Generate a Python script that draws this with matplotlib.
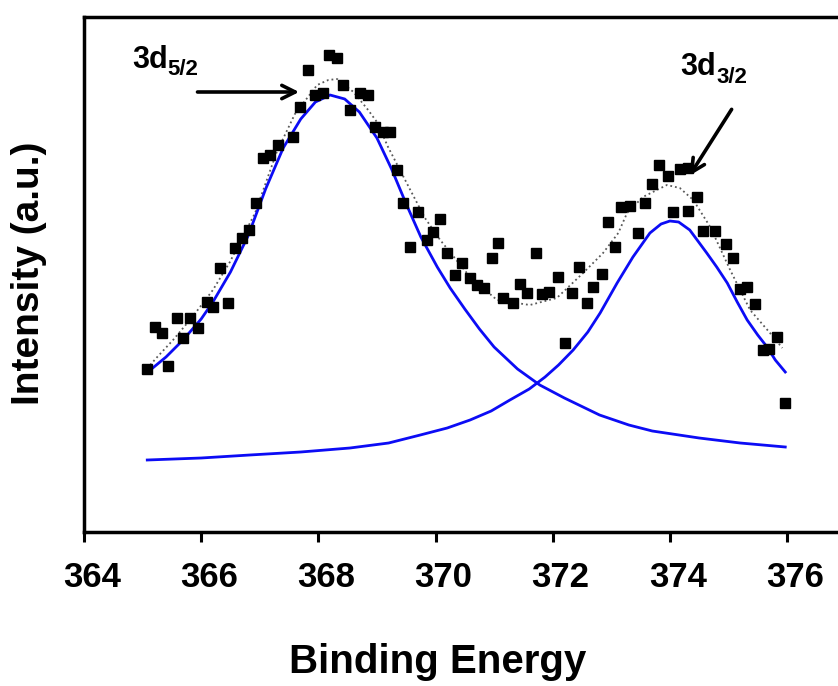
import matplotlib
matplotlib.use("Agg")
import matplotlib.pyplot as plt
from matplotlib.transforms import ScaledTranslation

plt.rcParams["font.family"] = ["Liberation Sans", "DejaVu Sans"]
plt.rcParams["font.weight"] = "bold"

# measured XPS points (binding energy in eV, intensity in a.u.)
energy = [
    365.08, 365.21, 365.33, 365.43, 365.59, 365.69, 365.81, 365.95, 366.10, 366.20,
    366.32, 366.46, 366.58, 366.70, 366.82, 366.94, 367.06, 367.18, 367.31, 367.57,
    367.69, 367.82, 367.94, 368.08, 368.18, 368.32, 368.42, 368.54, 368.71, 368.85,
    368.97, 369.10, 369.22, 369.34, 369.45, 369.57, 369.70, 369.86, 369.96, 370.08,
    370.20, 370.33, 370.45, 370.59, 370.71, 370.83, 370.96, 371.07, 371.15, 371.32,
    371.44, 371.56, 371.72, 371.82, 371.94, 372.09, 372.21, 372.33, 372.45, 372.59,
    372.69, 372.84, 372.95, 373.06, 373.17, 373.32, 373.46, 373.58, 373.70, 373.82,
    373.97, 374.05, 374.17, 374.31, 374.31, 374.46, 374.57, 374.77, 374.96, 375.08,
    375.20, 375.32, 375.45, 375.59, 375.69, 375.83, 375.97,
]
intensity = [
    163, 205, 199, 166, 214, 194, 214, 204, 230, 225,
    264, 229, 284, 294, 302, 329, 374, 377, 387, 395,
    425, 462, 437, 439, 477, 474, 447, 422, 439, 437,
    405, 400, 400, 362, 329, 285, 320, 292, 300, 313,
    279, 257, 269, 254, 247, 244, 274, 289, 234, 229,
    248, 239, 279, 238, 240, 255, 189, 239, 265, 229,
    245, 258, 310, 285, 325, 326, 299, 329, 348, 367,
    356, 320, 363, 364, 321, 335, 301, 301, 288, 274,
    243, 245, 228, 182, 183, 195, 129,
]

# fitted 3d5/2 component
fit1_e = [365.09, 365.40, 365.69, 366.00, 366.20, 366.50, 366.80, 367.10, 367.40, 367.70,
          367.95, 368.20, 368.45, 368.70, 369.00, 369.25, 369.50, 369.75, 370.03, 370.25,
          370.50, 370.75, 371.00, 371.40, 371.78, 372.20, 372.80, 373.30, 373.70, 374.50,
          375.20, 375.97]
fit1_i = [160, 175, 192, 213, 230, 260, 296, 343, 384, 413,
          430, 437, 433, 420, 394, 363, 328, 295, 265, 244,
          223, 203, 185, 163, 147, 134, 117, 107, 101, 94,
          89, 85]

# fitted 3d3/2 component
fit2_e = [365.08, 366.00, 366.83, 367.70, 368.54, 369.20, 369.74, 370.20, 370.59, 370.95,
          371.27, 371.60, 371.87, 372.10, 372.35, 372.60, 372.81, 373.10, 373.37, 373.66,
          373.85, 374.00, 374.15, 374.34, 374.63, 374.80, 374.98, 375.15, 375.32, 375.50,
          375.66, 375.80, 375.97]
fit2_i = [72, 74, 77, 80, 84, 89, 97, 104, 112, 121,
          132, 143, 155, 167, 182, 200, 219, 249, 275, 299,
          308, 311, 310, 302, 279, 265, 249, 230, 212, 197,
          185, 172, 160]

# envelope (sum of fit)
env_e = [365.13, 365.25, 365.52, 365.85, 366.20, 366.49, 366.92, 367.29, 367.60, 367.98,
         368.17, 368.32, 368.60, 368.85, 369.00, 369.19, 369.57, 369.82, 370.08, 370.59,
         371.05, 371.61, 372.07, 372.52, 372.86, 373.12, 373.27, 373.54, 373.95, 374.17,
         374.40, 374.69, 375.03, 375.37, 375.71, 375.92]
env_i = [167, 175, 192, 215, 242, 270, 319, 380, 418, 447,
         452, 453, 440, 422, 410, 385, 342, 314, 292, 255,
         232, 227, 234, 259, 279, 299, 319, 335, 347, 344,
         332, 305, 262, 222, 199, 184]

xticks = [364, 366, 368, 370, 372, 374, 376]

W, H = 838, 686
fig = plt.figure(figsize=(W / 100, H / 100), dpi=100)
ax = fig.add_axes([84 / W, (H - 532) / H, 761.6 / W, 515 / H])

ax.plot(env_e, env_i, ls=":", color="0.35", lw=1.3, zorder=2)
ax.plot(fit1_e, fit1_i, color="#0c0cf5", lw=2.0, zorder=3)
ax.plot(fit2_e, fit2_i, color="#0c0cf5", lw=2.0, zorder=3)
ax.plot(energy, intensity, ls="none", marker="s", ms=7.5, color="black", zorder=4)

ax.set_xlim(364, 377)
ax.set_ylim(0, 515)
ax.set_xticks(xticks)
ax.set_xticklabels([str(t) for t in xticks], fontsize=25, fontweight="bold")
ax.set_yticks([])
ax.tick_params(axis="x", direction="out", length=7, width=2.2, pad=14)
for lab in ax.get_xticklabels():
    lab.set_transform(lab.get_transform() + ScaledTranslation(0.08, 0, fig.dpi_scale_trans))
for side in ["left", "top", "bottom"]:
    ax.spines[side].set_linewidth(2.5)
ax.spines["right"].set_visible(False)

fig.text(438 / W, 1 - 662 / H, "Binding Energy", ha="center", va="center",
         fontsize=29, fontweight="bold")
fig.text(29 / W, 1 - 273 / H, "Intensity (a.u.)", ha="center", va="center",
         rotation=90, fontsize=28, fontweight="bold")

ax.annotate("", xy=(367.72, 440), xytext=(365.89, 440),
            arrowprops=dict(arrowstyle="->", lw=2.6, color="black", mutation_scale=24))
ax.annotate("", xy=(374.31, 354), xytext=(375.08, 425),
            arrowprops=dict(arrowstyle="->", lw=2.6, color="black", mutation_scale=24))

# peak labels: main text plus a separate subscript
ax.text(364.82, 464, "3d", fontsize=22, ha="left", va="baseline")
ax.text(365.43, 457, "5/2", fontsize=16, ha="left", va="baseline")
ax.text(374.17, 457, "3d", fontsize=22, ha="left", va="baseline")
ax.text(374.80, 449, "3/2", fontsize=16, ha="left", va="baseline")

fig.savefig("out.png", dpi=100)
